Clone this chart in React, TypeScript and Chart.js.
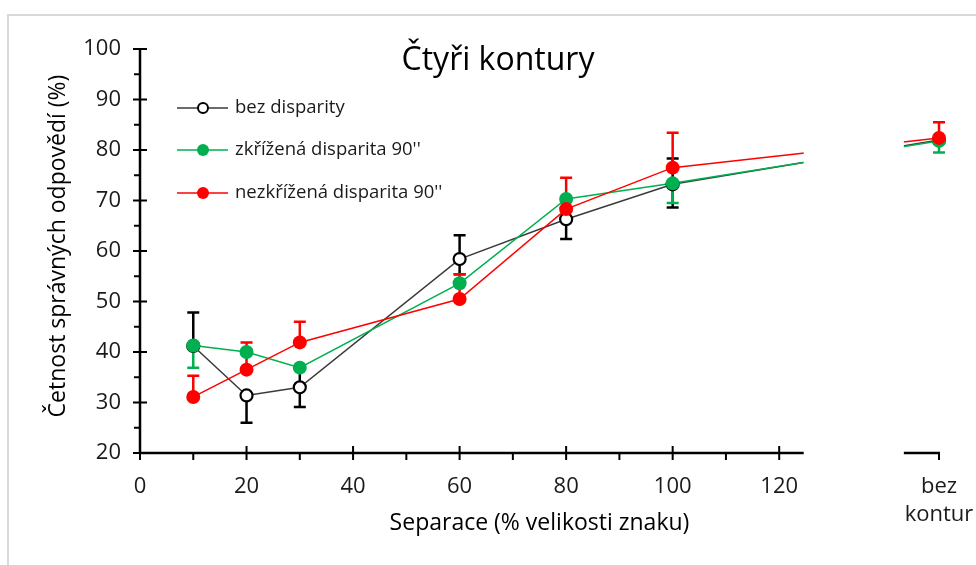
import React, { useEffect, useRef } from 'react';
import { Chart, registerables } from 'chart.js';

Chart.register(...registerables);

// ---- data ----
const xValues = [10, 20, 30, 60, 80, 100, 150];
const seriesNames = ['bez disparity', "zkřížená disparita 90''", "nezkřížená disparita 90''"];

const bezDisparity = [41.2, 31.4, 33.0, 58.4, 66.3, 73.2, 82.0];
const bezPlus = [6.6, 0, 3.6, 4.7, 0, 5.1, 0];
const bezMinus = [0, 5.4, 3.9, 3.0, 3.9, 4.6, 0];

const zkrizena = [41.3, 40.0, 36.9, 53.6, 70.3, 73.4, 81.8];
const zkrPlus = [0, 0, 0, 0, 0, 0, 0];
const zkrMinus = [4.4, 0, 0, 0, 0, 3.9, 2.3];

const nezkrizena = [31.1, 36.5, 41.9, 50.5, 68.3, 76.5, 82.4];
const nezPlus = [4.2, 5.4, 4.1, 4.9, 6.2, 6.9, 3.1];
const nezMinus = [0, 0, 0, 0, 0, 0, 0];

const xTickValues = [0, 20, 40, 60, 80, 100, 120, 150];
const xTickLabels: (string | string[])[] = ['0', '20', '40', '60', '80', '100', '120', ['bez', 'kontur']];
const xMinorTicks = [10, 30, 50, 70, 90, 110];
const yMajorTicks = [20, 30, 40, 50, 60, 70, 80, 90, 100];
const yMinorTicks = [25, 35, 45, 55, 65, 75, 85, 95];

const chartTitle = 'Čtyři kontury';
const xTitle = 'Separace (% velikosti znaku)';
const yTitle = 'Četnost správných odpovědí (%)';

// axis break (value range hidden on x)
const breakStart = 124.6;
const breakEnd = 143.4;

const FONT = '"Open Sans", Lato, sans-serif';
const COLORS = ['#3a3a3a', '#00b050', '#ff0000'];

const series = [
  { name: seriesNames[0], values: bezDisparity, plus: bezPlus, minus: bezMinus, color: COLORS[0], errColor: '#000000', open: true },
  { name: seriesNames[1], values: zkrizena, plus: zkrPlus, minus: zkrMinus, color: COLORS[1], errColor: COLORS[1], open: false },
  { name: seriesNames[2], values: nezkrizena, plus: nezPlus, minus: nezMinus, color: COLORS[2], errColor: COLORS[2], open: false },
];

const customPlugin = {
  id: 'custom',
  beforeDraw(chart: any) {
    const { ctx, width, height } = chart;
    ctx.save();
    ctx.fillStyle = '#ffffff';
    ctx.fillRect(0, 0, width, height);
    ctx.restore();
  },
  afterDatasetDraw(chart: any, args: any) {
    if (args.index !== 2) return;
    const { ctx, chartArea } = chart;
    const xs = chart.scales.x;
    const ys = chart.scales.y;
    ctx.save();
    // mask axis break
    const gx0 = xs.getPixelForValue(breakStart);
    const gx1 = xs.getPixelForValue(breakEnd);
    ctx.fillStyle = '#ffffff';
    ctx.fillRect(gx0, chartArea.top - 10, gx1 - gx0, chartArea.bottom - chartArea.top + 30);

    // axes
    ctx.strokeStyle = '#000000';
    ctx.lineWidth = 2.5;
    ctx.lineCap = 'butt';
    const x0 = xs.getPixelForValue(0);
    const yBase = ys.getPixelForValue(20);
    const yTop = ys.getPixelForValue(100);
    ctx.beginPath();
    ctx.moveTo(x0, yTop);
    ctx.lineTo(x0, yBase);
    ctx.stroke();
    ctx.beginPath();
    ctx.moveTo(x0 - 1, yBase);
    ctx.lineTo(gx0, yBase);
    ctx.moveTo(gx1, yBase);
    ctx.lineTo(xs.getPixelForValue(150) + 1, yBase);
    ctx.stroke();
    ctx.lineWidth = 2;
    ctx.beginPath();
    yMajorTicks.forEach((v) => {
      const py = ys.getPixelForValue(v);
      ctx.moveTo(x0 - 7, py);
      ctx.lineTo(x0 + 7, py);
    });
    yMinorTicks.forEach((v) => {
      const py = ys.getPixelForValue(v);
      ctx.moveTo(x0 - 6, py);
      ctx.lineTo(x0, py);
    });
    xTickValues.forEach((v) => {
      const px = xs.getPixelForValue(v);
      if (v === 150) {
        ctx.moveTo(px, yBase);
        ctx.lineTo(px, yBase + 7);
      } else {
        ctx.moveTo(px, yBase - 7);
        ctx.lineTo(px, yBase + 7);
      }
    });
    xMinorTicks.forEach((v) => {
      const px = xs.getPixelForValue(v);
      ctx.moveTo(px, yBase);
      ctx.lineTo(px, yBase + 7);
    });
    ctx.stroke();

    // error bars
    ctx.lineWidth = 2.5;
    series.forEach((s) => {
      ctx.strokeStyle = s.errColor;
      ctx.beginPath();
      xValues.forEach((xv, i) => {
        const px = xs.getPixelForValue(xv);
        const pc = ys.getPixelForValue(s.values[i]);
        if (s.plus[i] > 0) {
          const pTop = ys.getPixelForValue(s.values[i] + s.plus[i]);
          ctx.moveTo(px, pc);
          ctx.lineTo(px, pTop);
          ctx.moveTo(px - 6, pTop);
          ctx.lineTo(px + 6, pTop);
        }
        if (s.minus[i] > 0) {
          const pBot = ys.getPixelForValue(s.values[i] - s.minus[i]);
          ctx.moveTo(px, pc);
          ctx.lineTo(px, pBot);
          ctx.moveTo(px - 6, pBot);
          ctx.lineTo(px + 6, pBot);
        }
      });
      ctx.stroke();
    });
    ctx.restore();
  },
  afterDraw(chart: any) {
    const { ctx, chartArea } = chart;
    ctx.save();
    // frame
    ctx.strokeStyle = '#d9d9d9';
    ctx.lineWidth = 2;
    ctx.beginPath();
    ctx.moveTo(8, 600);
    ctx.lineTo(8, 15);
    ctx.lineTo(1000, 15);
    ctx.stroke();

    // title
    ctx.fillStyle = '#000000';
    ctx.font = `32px ${FONT}`;
    ctx.textAlign = 'center';
    ctx.textBaseline = 'alphabetic';
    ctx.fillText(chartTitle, 498, 70);

    // axis titles
    ctx.font = `23px ${FONT}`;
    ctx.textBaseline = 'middle';
    ctx.fillText(xTitle, (chartArea.left + chartArea.right) / 2, 523);
    ctx.save();
    ctx.translate(58, 246);
    ctx.rotate(-Math.PI / 2);
    ctx.fillText(yTitle, 0, 0);
    ctx.restore();

    // legend
    const rows = [108, 150, 193];
    ctx.font = `18.5px ${FONT}`;
    ctx.textAlign = 'left';
    series.forEach((s, i) => {
      const ry = rows[i];
      ctx.strokeStyle = s.color;
      ctx.lineWidth = 1.5;
      ctx.beginPath();
      ctx.moveTo(177, ry);
      ctx.lineTo(228, ry);
      ctx.stroke();
      ctx.beginPath();
      ctx.arc(203, ry, s.open ? 5 : 6, 0, Math.PI * 2);
      if (s.open) {
        ctx.fillStyle = '#ffffff';
        ctx.fill();
        ctx.strokeStyle = '#000000';
        ctx.lineWidth = 2;
        ctx.stroke();
      } else {
        ctx.fillStyle = s.color;
        ctx.fill();
      }
      ctx.fillStyle = '#1a1a1a';
      ctx.fillText(s.name, 235, ry);
    });
    ctx.restore();
  },
};

export default function App() {
  const canvasRef = useRef<HTMLCanvasElement | null>(null);

  useEffect(() => {
    if (!canvasRef.current) return;
    const toPoints = (vals: number[]) => xValues.map((x, i) => ({ x, y: vals[i] }));
    const lineSets = series.map((s, k) => ({
      label: s.name + ' line',
      data: toPoints(s.values),
      showLine: true,
      borderColor: s.color,
      borderWidth: 1.5,
      pointRadius: 0,
      fill: false,
      order: 30 - k,
    }));
    const markerSets = series.map((s, k) => ({
      label: s.name,
      data: toPoints(s.values),
      showLine: false,
      pointRadius: s.open ? 6 : 7,
      pointBorderWidth: s.open ? 2.2 : 0,
      pointBackgroundColor: s.open ? '#ffffff' : s.color,
      pointBorderColor: s.open ? '#000000' : s.color,
      clip: false as any,
      order: 20 - k,
    }));

    const chart = new Chart(canvasRef.current, {
      type: 'scatter',
      data: { datasets: [...lineSets, ...markerSets] as any },
      options: {
        responsive: false,
        animation: false,
        events: [],
        layout: { padding: { left: 0, top: 49, right: 37, bottom: 0 } },
        plugins: { legend: { display: false }, tooltip: { enabled: false }, title: { display: false } },
        scales: {
          x: {
            type: 'linear',
            min: 0,
            max: 150,
            grid: { display: false, drawTicks: false, tickLength: 0 },
            border: { display: false },
            afterBuildTicks: (scale: any) => {
              scale.ticks = xTickValues.map((v) => ({ value: v }));
            },
            afterFit: (scale: any) => {
              scale.height = 112;
              scale.paddingLeft = 0;
              scale.paddingRight = 0;
            },
            ticks: {
              autoSkip: false,
              maxRotation: 0,
              minRotation: 0,
              padding: 20,
              color: '#1a1a1a',
              font: { family: FONT, size: 22, lineHeight: 1.25 },
              callback: (_v: any, i: number) => xTickLabels[i],
            },
          },
          y: {
            type: 'linear',
            min: 20,
            max: 100,
            grid: { display: false, drawTicks: false, tickLength: 0 },
            border: { display: false },
            afterFit: (scale: any) => {
              scale.width = 140;
              scale.paddingTop = 0;
              scale.paddingBottom = 0;
            },
            ticks: {
              stepSize: 10,
              padding: 19,
              color: '#1a1a1a',
              font: { family: FONT, size: 22 },
            },
          },
        },
      },
      plugins: [customPlugin],
    });
    return () => chart.destroy();
  }, []);

  return (
    <div style={{ position: 'absolute', left: 0, top: 0, width: 976, height: 565 }}>
      <canvas ref={canvasRef} width={976} height={565} style={{ display: 'block' }} />
    </div>
  );
}
